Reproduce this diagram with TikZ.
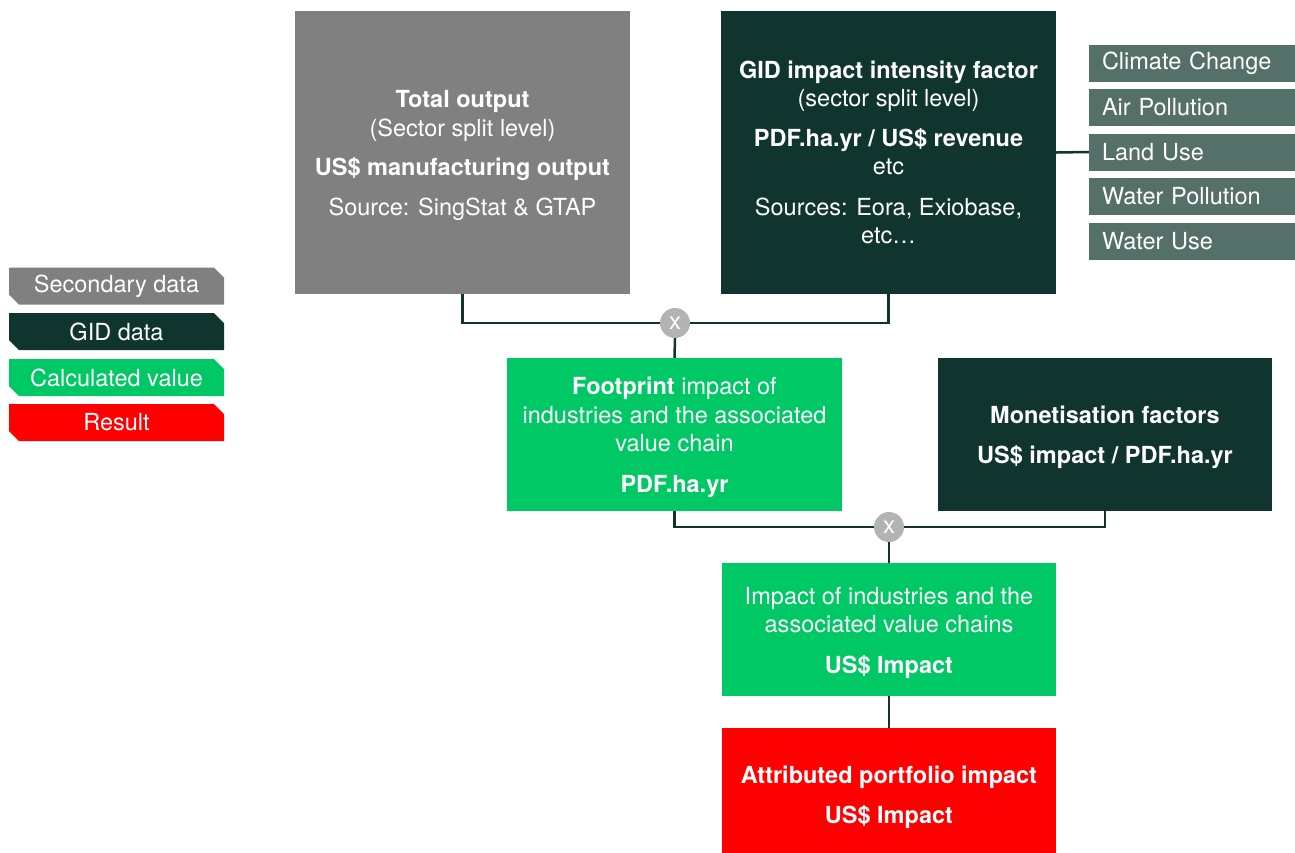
\documentclass[tikz,border=0pt]{standalone}
\usepackage{fontspec}
\setmainfont{TeX Gyre Heros}
\usepackage{tikz}
\usetikzlibrary{shapes.misc}
\definecolor{secgray}{HTML}{808080}
\definecolor{giddark}{HTML}{10352F}
\definecolor{gidlight}{HTML}{557068}
\definecolor{calcgreen}{HTML}{00C864}
\definecolor{resred}{HTML}{FF0000}
\definecolor{mulgray}{HTML}{B3B3B3}
\newcommand{\toppad}{\rule{0pt}{23.5pt}}

\begin{document}
\begin{tikzpicture}[
  x=1pt,y=-1pt,
  box/.style={text=white,align=center,inner sep=0pt,
    font=\fontsize{23.5}{28.5}\selectfont},
  ]
  \tikzset{%
    legendbox/.style={
      shape=chamfered rectangle,
      chamfered rectangle corners={north east,south west},
      chamfered rectangle xsep=5pt,
      chamfered rectangle ysep=5pt,
      text=white,inner sep=0pt,
      minimum width=215pt,minimum height=37pt,
      font=\fontsize{23.5}{26}\selectfont,
    },
    listbox/.style={
      fill=gidlight,text=white,inner sep=0pt,
      minimum width=206pt,minimum height=37pt,
      text width=180pt,align=left,
      font=\fontsize{23.5}{26}\selectfont,
    },
    mul/.style={circle,fill=mulgray,text=white,inner sep=0pt,
      minimum size=30pt,font=\fontsize{24}{24}\selectfont},
    link/.style={draw=giddark,line width=2.5pt},
  }
  \useasboundingbox (0,0) rectangle (1295,852);
  %Legend
  \node[legendbox,fill=secgray](lsec) at (116.5,286){Secondary data};
  \node[legendbox,fill=giddark](lgid) at (116.5,331.5){GID data};
  \node[legendbox,fill=calcgreen](lcalc) at (116.5,377.5){Calculated value};
  \node[legendbox,fill=resred](lres) at (116.5,422.5){Result};
  %Nodes
  \node[box,fill=secgray,minimum width=335pt,minimum height=283pt](tot) at (462.5,152.5)
    {\toppad\textbf{Total output}\\(Sector split level)\\[11pt]
     \textbf{US\$ manufacturing output}\\[11pt]Source: SingStat \& GTAP};
  \node[box,fill=giddark,minimum width=335pt,minimum height=283pt](gid) at (888.5,152.5)
    {\textbf{GID impact intensity factor}\\(sector split level)\\[11pt]
     \textbf{PDF.ha.yr / US\$ revenue}\\etc\\[12pt]Sources: Eora, Exiobase,\\etc…};
  \node[listbox](cc) at (1192,63){Climate Change};
  \node[listbox](air) at (1192,107.5){Air Pollution};
  \node[listbox](land) at (1192,152){Land Use};
  \node[listbox](wpol) at (1192,196.5){Water Pollution};
  \node[listbox](wuse) at (1192,241){Water Use};
  \node[mul](m1) at (675,323){x};
  \node[box,fill=calcgreen,minimum width=335pt,minimum height=153pt](fp) at (674.5,434.5)
    {\toppad\textbf{Footprint} impact of\\industries and the associated\\value chain\\[12pt]
     \textbf{PDF.ha.yr}};
  \node[box,fill=giddark,minimum width=334pt,minimum height=153pt](mon) at (1105,434.5)
    {\toppad\textbf{Monetisation factors}\\[12pt]\textbf{US\$ impact / PDF.ha.yr}};
  \node[mul](m2) at (889,527){x};
  \node[box,fill=calcgreen,minimum width=334pt,minimum height=133pt](imp) at (889,629.5)
    {\toppad Impact of industries and the\\associated value chains\\[12pt]\textbf{US\$ Impact}};
  \node[box,fill=resred,minimum width=334pt,minimum height=133pt](res) at (889,794.5)
    {\toppad\textbf{Attributed portfolio impact}\\[12pt]\textbf{US\$ Impact}};
  %Lines
  \path[link]
    (gid.east) edge (land.west)
    (tot.south) edge[to path={|- (\tikztotarget)}] (m1.west)
    (m1.east) edge[to path={-| (\tikztotarget)}] (gid.south)
    (m1.south) edge (fp.north)
    (fp.south) edge[to path={|- (\tikztotarget)}] (m2.west)
    (m2.east) edge[to path={-| (\tikztotarget)}] (mon.south)
    (m2.south) edge (imp.north)
    (imp.south) edge (res.north)
    ;
\end{tikzpicture}
\end{document}
